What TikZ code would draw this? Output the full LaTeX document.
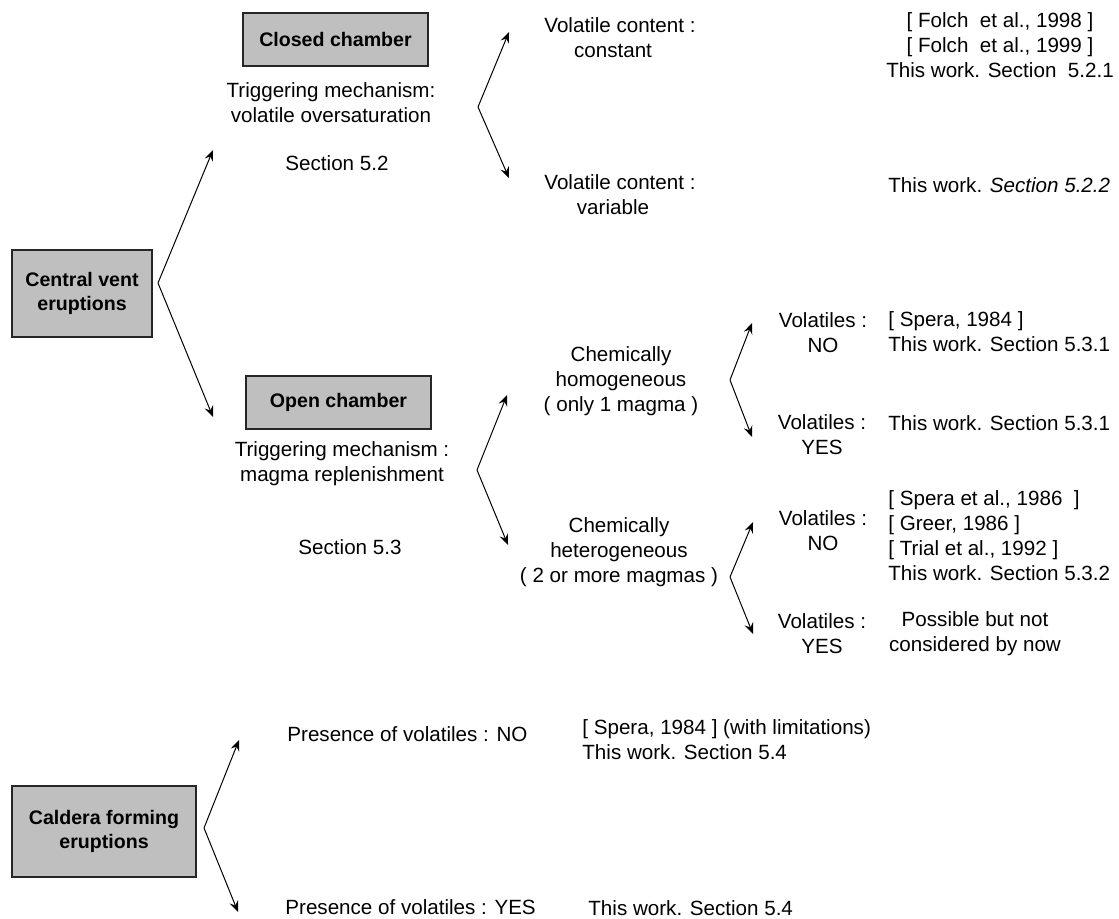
\documentclass[tikz,border=0pt]{standalone}
\usepackage{fontspec}
\setmainfont{Liberation Sans}
\usetikzlibrary{arrows.meta}

\begin{document}
\begin{tikzpicture}[x=0.5pt,y=-0.5pt,
  box/.style={draw=black!85,fill=black!25,line width=0.7pt,inner sep=0pt,align=center,font=\fontsize{9.8}{12}\selectfont\bfseries},
  txt/.style={inner sep=0pt,align=center,font=\fontsize{10.3}{12.5}\selectfont},
  ref/.style={txt,anchor=west,align=left},
  fork/.style={line width=0.5pt,-{Stealth[length=5.5pt,width=4.5pt,inset=2pt]}}]
\useasboundingbox (0,0) rectangle (1119,919);

\node[box,minimum width=70pt,minimum height=43.5pt] (cv) at (82,293.5) {Central vent\\eruptions};
\node[box,minimum width=92.5pt,minimum height=26.5pt] (closed) at (335.5,39.5) {Closed chamber};
\node[box,minimum width=92.5pt,minimum height=26.5pt] (open) at (338.5,402.5) {Open chamber};
\node[box,minimum width=92pt,minimum height=45.5pt] (caldera) at (104,831.5) {Caldera forming\\eruptions};

\node[txt] (trigclosed) at (331,102.5) {Triggering mechanism:\\volatile oversaturation};
\node[txt] (secclosed) at (337,163) {Section 5.2};
\node[txt] (trigopen) at (342,464) {Triggering mechanism :\\magma replenishment};
\node[txt] (secopen) at (350,547) {Section 5.3};

\node[txt] (vcconst) at (620,37.5) {Volatile content :\\constant\hspace*{7pt}};
\node[txt] (vcvar) at (620,195) {Volatile content :\\variable\hspace*{7pt}};
\node[txt] (refconst) at (1000,45) {{[} Folch\ \ et al., 1998 ]\\{[} Folch\ \ et al., 1999 ]\\This work. Section\ \ 5.2.1};
\node[ref] (refvar) at (888,185) {This work. \textit{Section 5.2.2}};

\node[txt] (homog) at (621,381.5) {Chemically\\homogeneous\\( only 1 magma )};
\node[txt] (heterog) at (619,552.5) {Chemically\\heterogeneous\\( 2 or more magmas )};

\node[txt] (homno) at (823,332.5) {Volatiles :\\NO};
\node[txt] (homyes) at (822,435) {Volatiles :\\YES};
\node[txt] (hetno) at (823,530.5) {Volatiles :\\NO};
\node[txt] (hetyes) at (822,634) {Volatiles :\\YES};

\node[ref] (refhomno) at (888,332) {{[} Spera, 1984 ]\\This work. Section 5.3.1};
\node[ref] (refhomyes) at (888,423) {This work. Section 5.3.1};
\node[ref] (refhetno) at (888,535.5) {{[} Spera et al., 1986\ \ ]\\{[} Greer, 1986 ]\\{[} Trial et al., 1992 ]\\This work. Section 5.3.2};
\node[txt] (refhetyes) at (975,634) {Possible but not\\considered by now};

\node[ref] (calno) at (287,734) {Presence of volatiles : NO};
\node[ref] (calyes) at (285,907) {Presence of volatiles : YES};
\node[ref] (refcalno) at (582,739.5) {{[} Spera, 1984 ] (with limitations)\\This work. Section 5.4};
\node[ref] (refcalyes) at (588,908) {This work. Section 5.4};

\coordinate (cvfork) at (158,283);
\coordinate (cvup) at (213,150);
\coordinate (cvdown) at (213,417);
\draw[fork] (cvfork) -- (cvup);
\draw[fork] (cvfork) -- (cvdown);

\coordinate (closedfork) at (478,107);
\coordinate (closedup) at (509,32);
\coordinate (closeddown) at (509,178);
\draw[fork] (closedfork) -- (closedup);
\draw[fork] (closedfork) -- (closeddown);

\coordinate (openfork) at (477,470);
\coordinate (openup) at (507,395);
\coordinate (opendown) at (508,545);
\draw[fork] (openfork) -- (openup);
\draw[fork] (openfork) -- (opendown);

\coordinate (homfork) at (730,380);
\coordinate (homup) at (752,323);
\coordinate (homdown) at (752,437);
\draw[fork] (homfork) -- (homup);
\draw[fork] (homfork) -- (homdown);

\coordinate (hetfork) at (730,577);
\coordinate (hetup) at (753,522);
\coordinate (hetdown) at (753,634);
\draw[fork] (hetfork) -- (hetup);
\draw[fork] (hetfork) -- (hetdown);

\coordinate (calfork) at (204,828);
\coordinate (calup) at (239,740);
\coordinate (caldown) at (238,912);
\draw[fork] (calfork) -- (calup);
\draw[fork] (calfork) -- (caldown);
\end{tikzpicture}
\end{document}
